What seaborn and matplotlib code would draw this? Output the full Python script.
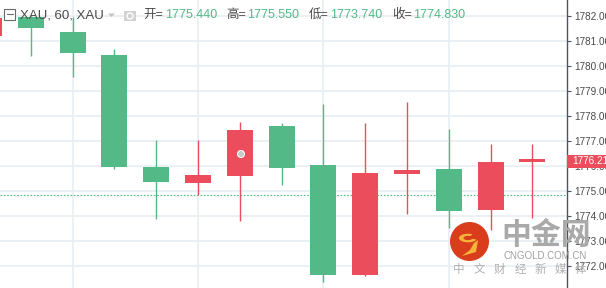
import numpy as np
import pandas as pd
import seaborn as sns
import matplotlib
matplotlib.use("Agg")
import matplotlib.pyplot as plt
from matplotlib.patches import Rectangle, Ellipse, Wedge, Polygon

# ---------------- data ----------------
candle_idx = list(range(14))
opens  = [1781.20, 1781.95, 1781.35, 1780.45, 1775.97, 1775.33, 1775.60,
          1777.60, 1776.04, 1771.64, 1775.68, 1775.87, 1774.24, 1776.15]
closes = [1781.92, 1781.50, 1780.50, 1775.95, 1775.36, 1775.64, 1777.44,
          1775.90, 1771.64, 1775.71, 1775.84, 1774.21, 1776.15, 1776.21]
highs  = [1782.10, 1782.05, 1781.97, 1780.68, 1777.03, 1777.04, 1777.77,
          1777.71, 1778.48, 1777.73, 1778.55, 1777.47, 1776.87, 1776.89]
lows   = [1780.90, 1780.41, 1779.55, 1775.89, 1773.89, 1774.84, 1773.81,
          1775.23, 1771.37, 1771.60, 1774.07, 1773.53, 1773.44, 1773.91]
y_ticks = [1772, 1773, 1774, 1775, 1776, 1777, 1778, 1779, 1780, 1781, 1782]
vgrid_idx = [2, 5, 8, 11]
prev_close = 1774.83
last_price = 1776.21
header_symbol = "XAU, 60, XAU"
header_labels = ["开=", "高=", "低=", "收="]
header_values = ["1775.440", "1775.550", "1773.740", "1774.830"]
logo_title = "中金网"
logo_url = "CNGOLD.COM.CN"
logo_slogan = ["中", "文", "财", "经", "新", "媒", "体"]

df = pd.DataFrame({"i": candle_idx, "open": opens, "close": closes,
                   "high": highs, "low": lows})
df["up"] = df["close"] >= df["open"]

UP = "#eb4d5c"     # red = rising
DOWN = "#53b987"   # green = falling
GRID = "#e8eef2"

sns.set_theme(style="white")
plt.rcParams["font.family"] = ["Liberation Sans", "Noto Sans CJK SC", "DejaVu Sans"]

W, H = 606, 288
fig = plt.figure(figsize=(W / 100, H / 100), dpi=100)
ax = fig.add_axes([0, 0, 567 / W, 1])

def fx(px):
    return px / W

def fy(py):
    return 1 - py / H

# grid
for v in y_ticks:
    ax.axhline(v, color=GRID, lw=1.2, zorder=0)
for g in vgrid_idx:
    ax.axvline(g, color=GRID, lw=1.2, zorder=0)

# candles
body_w = 0.62
colors = [UP if u else DOWN for u in df["up"]]
ax.vlines(df["i"], df["low"], df["high"], colors=colors, lw=1.0, zorder=2)
bottoms = np.minimum(df["open"], df["close"])
heights = np.maximum(np.abs(df["close"] - df["open"]), 0.12)
ax.bar(df["i"], heights, bottom=bottoms, width=body_w, color=colors,
       edgecolor="none", zorder=3)

# previous close dotted line
ax.axhline(prev_close, color=DOWN, lw=0.8, ls=(0, (1.5, 1.5)), zorder=1)

ax.set_xlim(0.263, 13.828)
ax.set_ylim(1771.12, 1782.64)
ax.set_xticks([])
ax.yaxis.tick_right()
ax.set_yticks(y_ticks)
ax.set_yticklabels([f"{v:.2f}" for v in y_ticks])
ax.tick_params(axis="y", direction="out", length=3, width=0.8, color="#50535e",
               labelsize=7.2, labelcolor="#4a4a4a", pad=2, right=True, left=False)
for s in ["top", "left", "bottom"]:
    ax.spines[s].set_visible(False)
ax.spines["right"].set_color("#50535e")
ax.spines["right"].set_linewidth(1.0)
ax.set_facecolor("white")

# last price label
fig.patches.append(Rectangle((fx(567), fy(168)), fx(606) - fx(567), (168 - 155) / H,
                             transform=fig.transFigure, facecolor=UP,
                             edgecolor="none", zorder=5))
fig.text(fx(572), fy(161.5), f"{last_price:.2f}", color="white", fontsize=7.2,
         va="center", ha="left", zorder=6)

# cursor dot
fig.patches.append(Ellipse((fx(241), fy(154)), 7 / W, 7 / H, transform=fig.transFigure,
                           facecolor="#c9c9c9", edgecolor="white", lw=0.8, zorder=6))

# header
fig.patches.append(Rectangle((fx(4), fy(19.5)), 11 / W, 10.5 / H, transform=fig.transFigure,
                             facecolor="white", edgecolor="#6a6a6a", lw=0.8, zorder=5))
fig.lines.append(plt.Line2D([fx(6.5), fx(12.5)], [fy(14.2), fy(14.2)],
                            transform=fig.transFigure, color="#6a6a6a", lw=0.8, zorder=6))
fig.text(fx(20), fy(15), header_symbol, color="#4a4a4a", fontsize=9.5,
         va="center", ha="left", zorder=6)
fig.patches.append(Polygon([[fx(108), fy(13.5)], [fx(115), fy(13.5)], [fx(111.5), fy(17)]],
                           closed=True, transform=fig.transFigure,
                           facecolor="#c4c4c4", edgecolor="none", zorder=6))
fig.patches.append(Rectangle((fx(124), fy(21)), 12 / W, 10 / H, transform=fig.transFigure,
                             facecolor="#d2d2d2", edgecolor="none", zorder=5))
fig.patches.append(Ellipse((fx(130), fy(16)), 6 / W, 6 / H, transform=fig.transFigure,
                           facecolor="none", edgecolor="white", lw=1.0, zorder=6))
label_x = [143, 226, 309, 392]
value_x = [165, 247, 330, 413]
for lab, lx, val, vx in zip(header_labels, label_x, header_values, value_x):
    fig.text(fx(lx), fy(15), lab, color="#4a4a4a", fontsize=9,
             va="center", ha="left", zorder=6)
    fig.text(fx(vx), fy(15), val, color=DOWN, fontsize=9,
             va="center", ha="left", zorder=6)

# watermark logo
fig.patches.append(Ellipse((fx(469.5), fy(241.5)), 39 / W, 39 / H, transform=fig.transFigure,
                           facecolor="#d93d1c", edgecolor="none", zorder=7))
fig.patches.append(Wedge((fx(468), fy(238)), 9 / W, 60, 340, width=4.5 / W,
                         transform=fig.transFigure, facecolor="#f6b43a",
                         edgecolor="none", zorder=8))
fig.patches.append(Polygon([[fx(474), fy(243)], [fx(478), fy(240)], [fx(476), fy(252)],
                            [fx(462), fy(256)], [fx(470), fy(250)]],
                           closed=True, transform=fig.transFigure,
                           facecolor="#f6b43a", edgecolor="none", zorder=8))
fig.text(fx(546), fy(235), logo_title, color="#a9a9a9", fontsize=21.5,
         fontweight="bold", family=["Noto Sans CJK SC"], va="center", ha="center", zorder=7)
fig.text(fx(545.5), fy(256), logo_url, color="#a0a0a0", fontsize=7.0,
         va="center", ha="center", zorder=7)
for k, ch in enumerate(logo_slogan):
    fig.text(fx(459 + k * 20.3), fy(269.5), ch, color="#b0b0b0", fontsize=8.3,
             family=["Noto Sans CJK SC"], va="center", ha="center", zorder=7)

fig.savefig("out.png", dpi=100, facecolor="white")
